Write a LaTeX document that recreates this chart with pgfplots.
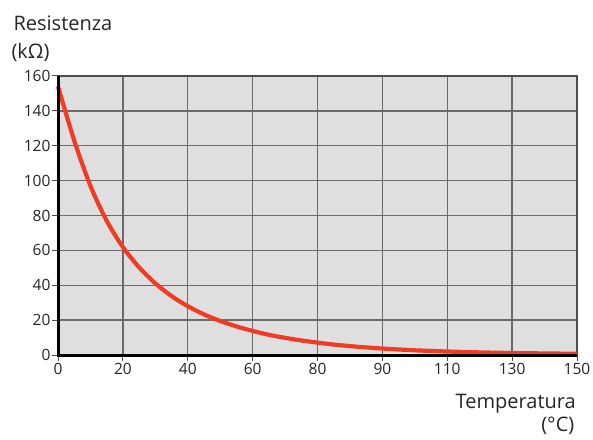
\documentclass[border=0pt]{standalone}
\usepackage{pgfplots}
\pgfplotsset{compat=1.18}
\usepackage{fontspec}
\setmainfont{Open Sans}
\definecolor{bg}{HTML}{DFDFDF}
\definecolor{gridc}{HTML}{6A6A6A}
\definecolor{curve}{HTML}{F03C24}
\begin{document}
\begin{tikzpicture}[x=1pt,y=1pt]
\path[use as bounding box] (-58,-84) rectangle (535,355);
\begin{axis}[
  at={(0,0)}, anchor=origin,
  scale only axis, width=519pt, height=279pt,
  xmin=0, xmax=160, ymin=0, ymax=160,
  xtick={0,20,...,160},
  xticklabels={0,20,40,60,80,90,110,130,150},
  ytick={0,20,...,160},
  yticklabels={0,20,40,60,80,100,120,140,160},
  grid=major,
  major grid style={gridc, line width=1.3pt},
  axis background/.style={fill=bg},
  axis line style={draw=black!70, line width=2.2pt},
  tick align=outside,
  tick pos=left,
  major tick length=6pt,
  tick style={black!70, line width=1pt},
  tick label style={font=\fontsize{15.5}{18}\selectfont, text=black!85},
  xticklabel style={yshift=1pt},
  yticklabel style={xshift=2pt},
  clip=false,
]
\addplot[curve, line width=4.2pt, smooth, tension=0.5] coordinates {
(0,154) (5,123) (10,97) (15,77) (20,61.9) (25,50.3) (30,41.1) (35,33.8) (40,28)
(45,23.3) (50,19.5) (55,16.4) (60,13.8) (65,11.6) (70,9.85) (75,8.35) (80,7.1)
(85,6.0) (90,5.1) (95,4.35) (100,3.7) (110,2.7) (120,2.0) (130,1.5) (140,1.15)
(150,0.9) (160,0.7)
};
\draw[black, line width=3pt] (rel axis cs:0,1) -- (rel axis cs:0,0) -- (rel axis cs:1,0);
\end{axis}
\node[anchor=base west, font=\fontsize{20}{24}\selectfont, text=black!85] at (-48,324.3) {Resistenza};
\node[anchor=base west, font=\fontsize{20}{24}\selectfont, text=black!85] at (-50,296.5) {(kΩ)};
\node[anchor=base east, font=\fontsize{20}{24}\selectfont, text=black!85, inner sep=0pt] at (518,-53.3) {Temperatura};
\node[anchor=base east, font=\fontsize{20}{24}\selectfont, text=black!85, inner sep=0pt] at (516.5,-76.7) {(°C)};
\end{tikzpicture}
\end{document}
